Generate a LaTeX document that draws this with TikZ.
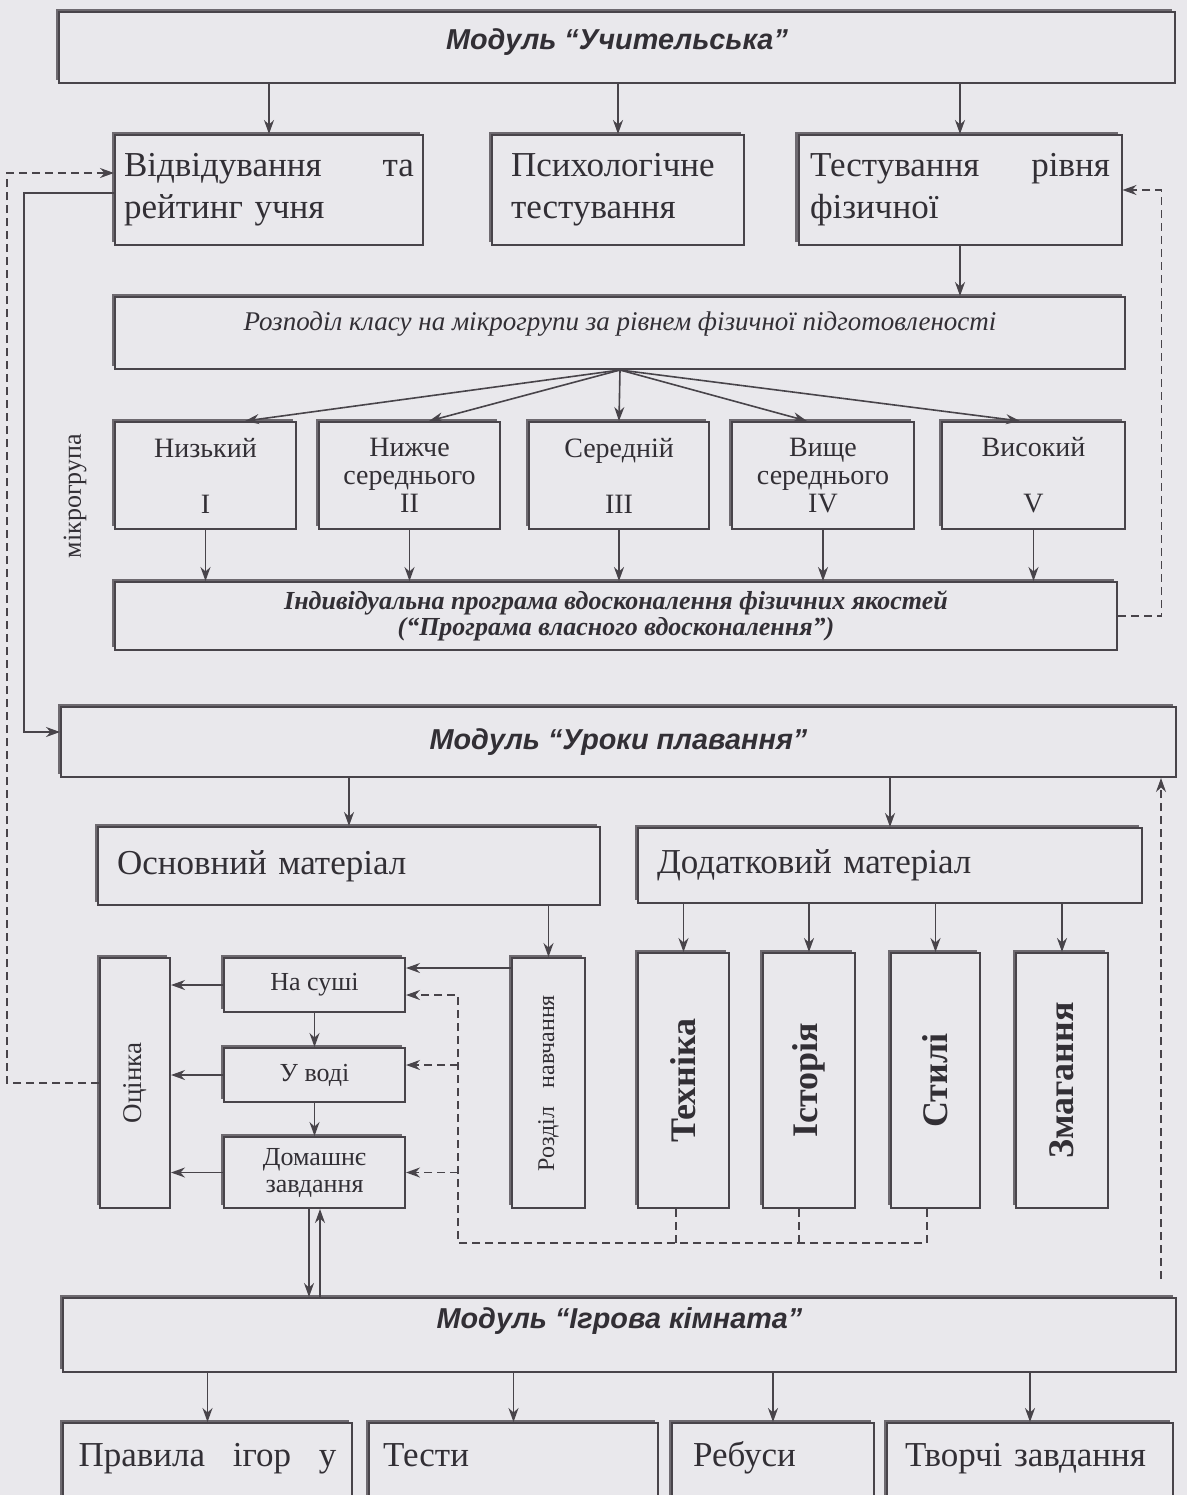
\documentclass[tikz,border=0pt]{standalone}
\usepackage{fontspec}
\setmainfont{Liberation Serif}
\newfontfamily\headfont{Liberation Sans}
\usetikzlibrary{arrows.meta,shadows}
\definecolor{bgc}{RGB}{233,232,236}
\definecolor{linec}{RGB}{72,68,74}
\definecolor{txtc}{RGB}{50,47,53}
\definecolor{shadc}{RGB}{110,106,112}
% strut of given height and depth, to move a text up or down in its box
\newcommand{\vstrut}[2]{\rule[-#2]{0pt}{\dimexpr#1+#2\relax}}

\begin{document}
\begin{tikzpicture}[x=0.5pt, y=-0.5pt,
  box/.style={draw=linec, line width=1pt, fill=bgc, text=txtc, inner sep=0pt,
    general shadow={fill=shadc, shadow xshift=-1.75pt, shadow yshift=1.75pt}},
  modbox/.style={box, font=\headfont\bfseries\itshape\fontsize{14.4}{17}\selectfont},
  bigbox/.style={box, align=left, font=\fontsize{17.5}{21}\selectfont},
  grpbox/.style={box, align=center, font=\fontsize{14}{14}\selectfont},
  smallbox/.style={box, align=center, font=\fontsize{13}{13.5}\selectfont},
  vbox/.style={box, font=\bfseries\fontsize{18}{20}\selectfont},
  arr/.style={draw=linec, line width=0.8pt, -{Stealth[length=7pt,width=5pt]}},
  dasharr/.style={arr, dash pattern=on 4pt off 2.5pt},
  dashline/.style={draw=linec, line width=0.8pt, dash pattern=on 4pt off 2.5pt}]

\clip (0,0) rectangle (1187,1495);
\fill[bgc] (0,0) rectangle (1187,1495);

% Module "Uchytelska"
\node[modbox, minimum width=558pt, minimum height=35.5pt] (teach) at (617,47.5) {\vstrut{12pt}{9.7pt}Модуль “Учительська”};

% Tests
\node[bigbox, minimum width=154pt, minimum height=55pt, text width=145pt] (attend) at (269,190) {Відвідування\hfill та\\рейтинг учня};
\node[bigbox, minimum width=126pt, minimum height=55pt, text width=107pt] (psych) at (618,190) {Психологічне\\тестування};
\node[bigbox, minimum width=161.5pt, minimum height=55pt, text width=150pt] (phys) at (960,190) {Тестування\hfill рівня\\фізичної};

% Distribution into microgroups
\node[box, font=\itshape\fontsize{13.5}{16}\selectfont, minimum width=505pt, minimum height=36pt] (distrib) at (620,333) {\vstrut{11pt}{13.1pt}Розподіл класу на мікрогрупи за рівнем фізичної підготовленості};

\node[grpbox, minimum width=90.5pt, minimum height=53.5pt] (g1) at (205.5,475.5) {Низький\\\mbox{}\\I};
\node[grpbox, minimum width=90.5pt, minimum height=53.5pt] (g2) at (409.5,475.5) {Нижче\\середнього\\II};
\node[grpbox, minimum width=90pt, minimum height=53.5pt] (g3) at (619,475.5) {Середній\\\mbox{}\\III};
\node[grpbox, minimum width=91pt, minimum height=53.5pt] (g4) at (823,475.5) {Вище\\середнього\\IV};
\node[grpbox, minimum width=91.5pt, minimum height=53.5pt] (g5) at (1033.5,475.5) {Високий\\\mbox{}\\V};

\node[text=txtc, font=\fontsize{13}{15}\selectfont, rotate=90] (micro) at (75,496) {мікрогрупа};

% Individual programme
\node[box, align=center, font=\bfseries\itshape\fontsize{13}{13}\selectfont, minimum width=501pt, minimum height=34pt] (indiv) at (616,616) {Індивідуальна програма вдосконалення фізичних якостей\\(“Програма власного вдосконалення”)};

% Module "Uroky plavannia"
\node[modbox, minimum width=557.5pt, minimum height=35pt] (lessons) at (618.5,742) {\vstrut{12pt}{4.7pt}Модуль “Уроки плавання”};

\node[bigbox, minimum width=251pt, minimum height=39pt, text width=232pt] (basic) at (349,866) {Основний матеріал};
\node[bigbox, minimum width=252pt, minimum height=37.5pt, text width=233pt] (extra) at (890,865.5) {Додатковий матеріал};

% Basic material column
\node[box, font=\fontsize{13.5}{15}\selectfont, minimum width=35pt, minimum height=125pt] (assess) at (135,1083) {\rotatebox{90}{Оцінка}};
\node[smallbox, minimum width=90.5pt, minimum height=27pt] (land) at (314.5,985) {На суші};
\node[smallbox, minimum width=90.5pt, minimum height=27pt] (water) at (314.5,1075) {У воді};
\node[smallbox, minimum width=90.5pt, minimum height=35.5pt] (home) at (314.5,1172.5) {Домашнє\\завдання};
\node[box, font=\fontsize{12}{14}\selectfont, minimum width=36.5pt, minimum height=125pt] (learn) at (548.5,1083) {\rotatebox{90}{Розділ\hspace{9pt}навчання}};

% Extra material topics
\node[vbox, minimum width=45.5pt, minimum height=127.5pt] (tech) at (683.5,1080.5) {\rotatebox{90}{Техніка}};
\node[vbox, minimum width=46pt, minimum height=127.5pt] (hist) at (809,1080.5) {\rotatebox{90}{Історія}};
\node[vbox, minimum width=44.5pt, minimum height=127.5pt] (styles) at (935.5,1080.5) {\rotatebox{90}{Стилі}};
\node[vbox, minimum width=46pt, minimum height=127.5pt] (comp) at (1062,1080.5) {\rotatebox{90}{Змагання}};

% Module "Ihrova kimnata"
\node[modbox, minimum width=556.5pt, minimum height=37pt] (games) at (619.5,1335) {\vstrut{12pt}{18.7pt}Модуль “Ігрова кімната”};

\node[bigbox, minimum width=144.5pt, minimum height=43.5pt, text width=129pt] (rules) at (207.5,1466.5) {\vstrut{14pt}{14pt}Правила\hfill ігор\hfill у};
\node[bigbox, minimum width=144.5pt, minimum height=43.5pt, text width=130.5pt] (tests) at (513.5,1466.5) {\vstrut{14pt}{14pt}Тести};
\node[bigbox, minimum width=101pt, minimum height=43.5pt, text width=80pt] (rebus) at (773,1466.5) {\vstrut{14pt}{14pt}Ребуси};
\node[bigbox, minimum width=143pt, minimum height=43.5pt, text width=125pt] (creative) at (1030,1466.5) {\vstrut{14pt}{14pt}Творчі завдання};

% Connectors, top part
\foreach \n in {attend,psych,phys}
  \draw[arr] (teach.south -| \n.north) -- (\n.north);
\draw[arr] (phys.south) -- (phys.south |- distrib.north);
\draw[arr] (distrib.south) -- ([xshift=19.75pt]g1.north);
\draw[arr] (distrib.south) -- ([xshift=9.75pt]g2.north);
\draw[arr] (distrib.south) -- (g3.north);
\draw[arr] (distrib.south) -- ([xshift=-8pt]g4.north);
\draw[arr] (distrib.south) -- ([xshift=-6.75pt]g5.north);
\foreach \n in {g1,g2,g3,g4,g5}
  \draw[arr] (\n.south) -- (\n.south |- indiv.north);
\draw[dasharr] (indiv.east) -| ([xshift=19.5pt]phys.east) -- (phys.east);

% Left loops
\draw[arr] ([yshift=-1.5pt]attend.west) -- ++(-90,0) |- ([yshift=5pt]lessons.west);
\draw[dasharr] (assess.west) -- ++(-92,0) |- ([yshift=8.5pt]attend.west);

% Lessons module
\draw[arr] (lessons.south -| basic.north) -- (basic.north);
\draw[arr] (lessons.south -| extra.north) -- (extra.north);
\draw[arr] (basic.south -| learn.north) -- (learn.north);
\coordinate (lk) at ([yshift=-5.5pt]learn.north west);
\draw[arr] (lk) -- (lk -| land.east);
\foreach \n in {tech,hist,styles,comp}
  \draw[arr] (extra.south -| \n.north) -- (\n.north);
\foreach \n in {land,water,home}
  \draw[arr] (\n.west) -- (\n.west -| assess.east);
\draw[arr] (land.south) -- (water.north);
\draw[arr] (water.south) -- (home.north);

% Dashed returns from the topics
\coordinate (dj) at (458,1243);
\coordinate (t1) at ([xshift=-3.75pt]tech.south);
\coordinate (t2) at ([xshift=-5pt]hist.south);
\coordinate (t3) at ([xshift=-4.25pt]styles.south);
\coordinate (wt) at ([yshift=5pt]water.east);
\draw[dasharr] (t3) |- (dj) |- ([yshift=-5pt]land.east);
\draw[dashline] (t1) -- (t1 |- dj);
\draw[dashline] (t2) -- (t2 |- dj);
\draw[dasharr] (dj |- wt) -- (wt);
\draw[dasharr] (dj |- home.east) -- (home.east);

% Home task to games module
\coordinate (h1) at ([xshift=-2.75pt]home.south);
\coordinate (h2) at ([xshift=2.75pt]home.south);
\draw[arr] (h1) -- (h1 |- games.north);
\draw[arr] (h2 |- games.north) -- (h2);

% Games module
\coordinate (gr) at ([xshift=-8pt,yshift=9pt]games.north east);
\draw[dasharr] (gr) -- (gr |- lessons.south);
\foreach \n in {rules,tests,rebus,creative}
  \draw[arr] (games.south -| \n.north) -- (\n.north);

\end{tikzpicture}
\end{document}
